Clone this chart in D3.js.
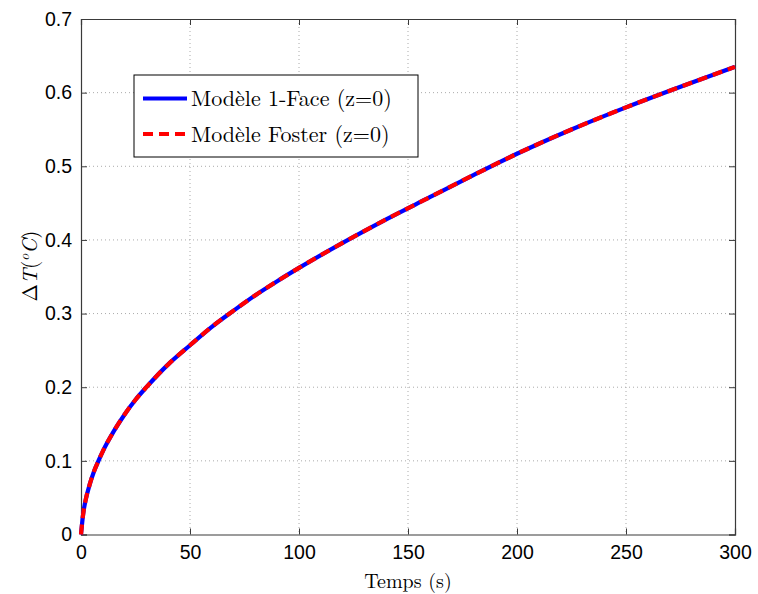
<!DOCTYPE html>
<html>
<head>
<meta charset="utf-8">
<script src="https://cdn.jsdelivr.net/npm/d3@7"></script>
<style>
  html, body { margin: 0; padding: 0; background: #fff; }
  svg { display: block; }
</style>
</head>
<body>
<svg id="chart" width="758" height="594"></svg>
<script>
// ---- data ----
const timeS = [0, 1, 2, 4, 6, 8, 10, 15, 20, 25, 30, 40, 50, 60, 70, 80, 90, 100, 120, 140, 160, 180, 200, 225, 250, 275, 300];
const model1Face = [0, 0.028, 0.045, 0.068, 0.086, 0.100, 0.113, 0.140, 0.163, 0.183, 0.200, 0.231, 0.257, 0.282, 0.304, 0.325, 0.344, 0.362, 0.396, 0.428, 0.458, 0.488, 0.517, 0.550, 0.580, 0.608, 0.635];
const modelFoster = [0, 0.028, 0.045, 0.068, 0.086, 0.100, 0.113, 0.140, 0.163, 0.183, 0.200, 0.231, 0.257, 0.282, 0.304, 0.325, 0.344, 0.362, 0.396, 0.428, 0.458, 0.488, 0.517, 0.550, 0.580, 0.608, 0.635];
const xTicks = [0, 50, 100, 150, 200, 250, 300];
const yTicks = [0, 0.1, 0.2, 0.3, 0.4, 0.5, 0.6, 0.7];
const seriesNames = ["Modèle 1-Face (z=0)", "Modèle Foster (z=0)"];
const xLabel = "Temps (s)";

// ---- layout ----
const svg = d3.select("#chart");
const L = 81, R = 735, T = 19, B = 534.5;
const x = d3.scaleLinear().domain([0, 300]).range([L, R]);
const y = d3.scaleLinear().domain([0, 0.7]).range([B, T]);

const axisColor = "#3a3a3a";
const tickFont = "'Liberation Sans', Arial, sans-serif";
const serifFont = "'Latin Modern Roman','CMU Serif','DejaVu Serif','Liberation Serif',serif";

// gridlines
const grid = svg.append("g");
grid.selectAll("line.gx").data(xTicks.slice(1, -1)).join("line")
  .attr("x1", d => x(d)).attr("x2", d => x(d)).attr("y1", T).attr("y2", B)
  .attr("stroke", "#aaaaaa").attr("stroke-width", 1).attr("stroke-dasharray", "1,3");
grid.selectAll("line.gy").data(yTicks.slice(1, -1)).join("line")
  .attr("x1", L).attr("x2", R).attr("y1", d => y(d)).attr("y2", d => y(d))
  .attr("stroke", "#aaaaaa").attr("stroke-width", 1).attr("stroke-dasharray", "1,3");

// axes (inward ticks, box)
const tickLen = 6;
const axB = svg.append("g").attr("transform", `translate(0,${B})`)
  .call(d3.axisBottom(x).tickValues(xTicks).tickSize(-tickLen).tickPadding(11).tickFormat(d3.format("d")));
const axT = svg.append("g").attr("transform", `translate(0,${T})`)
  .call(d3.axisTop(x).tickValues(xTicks).tickSize(-tickLen).tickFormat(""));
const axL = svg.append("g").attr("transform", `translate(${L},0)`)
  .call(d3.axisLeft(y).tickValues(yTicks).tickSize(-tickLen).tickPadding(9).tickFormat(d => d === 0 ? "0" : d3.format(".1f")(d)));
const axR = svg.append("g").attr("transform", `translate(${R},0)`)
  .call(d3.axisRight(y).tickValues(yTicks).tickSize(-tickLen).tickFormat(""));
[axB, axT, axL, axR].forEach(a => {
  a.select(".domain").attr("stroke", axisColor).attr("stroke-width", 1.2);
  a.selectAll(".tick line").attr("stroke", axisColor).attr("stroke-width", 1);
  a.selectAll(".tick text").attr("fill", "#000").style("font-family", tickFont).style("font-size", "19.5px");
});
axB.selectAll(".tick text").attr("dy", "0.71em");

// lines
const line = d3.line().x((d, i) => x(timeS[i])).y(d => y(d)).curve(d3.curveMonotoneX);
svg.append("path").datum(model1Face).attr("d", line)
  .attr("fill", "none").attr("stroke", "#0000ff").attr("stroke-width", 4.2);
svg.append("path").datum(modelFoster).attr("d", line)
  .attr("fill", "none").attr("stroke", "#ff0000").attr("stroke-width", 4.2)
  .attr("stroke-dasharray", "10,6");

// legend
const lg = svg.append("g");
lg.append("rect").attr("x", 134).attr("y", 75).attr("width", 284).attr("height", 82)
  .attr("fill", "#fff").attr("stroke", "#000").attr("stroke-width", 1);
const legendRows = [
  { name: seriesNames[0], color: "#0000ff", dash: null, yy: 98.5 },
  { name: seriesNames[1], color: "#ff0000", dash: "10,6", yy: 134 }
];
legendRows.forEach(r => {
  lg.append("line").attr("x1", 143).attr("x2", 187).attr("y1", r.yy).attr("y2", r.yy)
    .attr("stroke", r.color).attr("stroke-width", 4.2).attr("stroke-dasharray", r.dash);
  lg.append("text").attr("x", 191).attr("y", r.yy).attr("dy", "0.35em")
    .style("font-family", serifFont).style("font-size", "22px").text(r.name);
});

// x label
svg.append("text").attr("x", (L + R) / 2).attr("y", 588).attr("text-anchor", "middle")
  .style("font-family", serifFont).style("font-size", "20px").text(xLabel);

// y label
const yl = svg.append("text").attr("transform", "translate(37,266) rotate(-90)")
  .attr("text-anchor", "middle").style("font-family", serifFont).style("font-size", "21px");
yl.append("tspan").text("Δ");
yl.append("tspan").style("font-style", "italic").text("T");
yl.append("tspan").text("(");
yl.append("tspan").style("font-style", "italic").style("font-size", "14px").attr("dy", "-8").text("o");
yl.append("tspan").style("font-style", "italic").attr("dy", "8").text("C");
yl.append("tspan").text(")");
</script>
</body>
</html>
